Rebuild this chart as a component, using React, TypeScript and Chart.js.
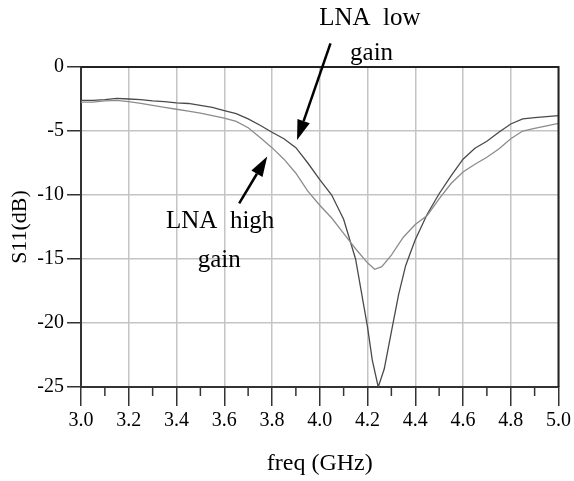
import React, { useEffect, useRef } from "react";
import { Chart, registerables } from "chart.js";

Chart.register(...registerables);

const FREQ_LOW = [3.0, 3.05, 3.1, 3.15, 3.2, 3.25, 3.3, 3.35, 3.4, 3.45, 3.5, 3.55, 3.6, 3.65, 3.7, 3.75, 3.8, 3.85, 3.9, 3.95, 4.0, 4.05, 4.1, 4.15, 4.2, 4.22, 4.245, 4.27, 4.3, 4.33, 4.36, 4.4, 4.45, 4.5, 4.55, 4.6, 4.65, 4.7, 4.75, 4.8, 4.85, 4.9, 4.95, 5.0];
const S11_LOW = [-2.6, -2.6, -2.55, -2.45, -2.5, -2.55, -2.65, -2.7, -2.8, -2.85, -3.0, -3.15, -3.4, -3.65, -4.05, -4.55, -5.1, -5.6, -6.3, -7.5, -8.8, -10.0, -11.9, -15.0, -20.3, -22.9, -25.0, -23.6, -20.7, -17.8, -15.5, -13.5, -11.5, -9.9, -8.5, -7.2, -6.35, -5.8, -5.1, -4.45, -4.05, -3.95, -3.88, -3.8];

const FREQ_HIGH = [3.0, 3.05, 3.1, 3.15, 3.2, 3.25, 3.3, 3.35, 3.4, 3.45, 3.5, 3.55, 3.6, 3.65, 3.7, 3.75, 3.8, 3.85, 3.9, 3.95, 4.0, 4.05, 4.1, 4.15, 4.2, 4.23, 4.26, 4.3, 4.35, 4.4, 4.45, 4.5, 4.55, 4.6, 4.65, 4.7, 4.75, 4.8, 4.85, 4.9, 4.95, 5.0];
const S11_HIGH = [-2.75, -2.75, -2.65, -2.6, -2.7, -2.85, -3.0, -3.15, -3.3, -3.45, -3.6, -3.8, -4.0, -4.25, -4.75, -5.5, -6.3, -7.2, -8.3, -9.7, -10.8, -11.8, -13.0, -14.2, -15.3, -15.8, -15.6, -14.7, -13.3, -12.3, -11.6, -10.3, -9.1, -8.2, -7.6, -7.05, -6.4, -5.6, -5.0, -4.8, -4.6, -4.4];

const X_TICK_LABELS = ["3.0", "3.2", "3.4", "3.6", "3.8", "4.0", "4.2", "4.4", "4.6", "4.8", "5.0"];
const Y_TICK_LABELS = ["0", "-5", "-10", "-15", "-20", "-25"];

const X_TITLE = "freq (GHz)";
const Y_TITLE = "S11(dB)";

// annotation text lines (center x, baseline y in data units) and arrows
const LABEL_LOW_LINES = ["LNA  low", "gain"];
const LABEL_LOW_X = [4.21, 4.217];
const LABEL_LOW_Y = [3.28, 0.55];
const ARROW_LOW = [4.045, 1.85, 3.905, -5.7];

const LABEL_HIGH_LINES = ["LNA  high", "gain"];
const LABEL_HIGH_X = [3.583, 3.579];
const LABEL_HIGH_Y = [-12.6, -15.6];
const ARROW_HIGH = [3.6625, -10.65, 3.78, -7.0];

const SERIF = "'Liberation Serif', 'Times New Roman', serif";

const isMajor = (v: number) => Math.round(v * 10) % 2 === 0;

export default function App() {
  const ref = useRef<HTMLCanvasElement | null>(null);

  useEffect(() => {
    document.body.style.margin = "0";
    const canvas = ref.current;
    if (!canvas) return;

    const decor = {
      id: "decor",
      afterDraw(chart: any) {
        const ctx = chart.ctx;
        const xs = chart.scales.x;
        const ys = chart.scales.y;
        const area = chart.chartArea;
        ctx.save();
        // minor ticks
        ctx.strokeStyle = "#333";
        ctx.lineWidth = 1.5;
        xs.ticks.forEach((t: any) => {
          if (!isMajor(t.value)) {
            const px = xs.getPixelForValue(t.value);
            ctx.beginPath();
            ctx.moveTo(px, area.bottom);
            ctx.lineTo(px, area.bottom + 9);
            ctx.stroke();
          }
        });
        // top and right borders
        ctx.strokeStyle = "#222";
        ctx.lineWidth = 2;
        ctx.beginPath();
        ctx.moveTo(area.left, area.top);
        ctx.lineTo(area.right, area.top);
        ctx.lineTo(area.right, area.bottom);
        ctx.stroke();

        // arrows
        const drawArrow = (a: number[]) => {
          const x0 = xs.getPixelForValue(a[0]);
          const y0 = ys.getPixelForValue(a[1]);
          const x1 = xs.getPixelForValue(a[2]);
          const y1 = ys.getPixelForValue(a[3]);
          const ang = Math.atan2(y1 - y0, x1 - x0);
          const hl = 20;
          const hw = 6.5;
          const bx = x1 - hl * Math.cos(ang);
          const by = y1 - hl * Math.sin(ang);
          ctx.strokeStyle = "#000";
          ctx.lineWidth = 2.5;
          ctx.beginPath();
          ctx.moveTo(x0, y0);
          ctx.lineTo(bx, by);
          ctx.stroke();
          ctx.fillStyle = "#000";
          ctx.beginPath();
          ctx.moveTo(x1, y1);
          ctx.lineTo(bx + hw * Math.sin(ang), by - hw * Math.cos(ang));
          ctx.lineTo(bx - hw * Math.sin(ang), by + hw * Math.cos(ang));
          ctx.closePath();
          ctx.fill();
        };
        drawArrow(ARROW_LOW);
        drawArrow(ARROW_HIGH);

        // texts
        ctx.fillStyle = "#000";
        ctx.font = `25px ${SERIF}`;
        ctx.textAlign = "center";
        ctx.textBaseline = "alphabetic";
        LABEL_LOW_LINES.forEach((s, i) => {
          ctx.fillText(s, xs.getPixelForValue(LABEL_LOW_X[i]), ys.getPixelForValue(LABEL_LOW_Y[i]));
        });
        LABEL_HIGH_LINES.forEach((s, i) => {
          ctx.fillText(s, xs.getPixelForValue(LABEL_HIGH_X[i]), ys.getPixelForValue(LABEL_HIGH_Y[i]));
        });
        ctx.restore();
      },
    };

    const chart = new Chart(canvas, {
      type: "line",
      data: {
        datasets: [
          {
            label: "LNA high gain",
            data: FREQ_HIGH.map((f, i) => ({ x: f, y: S11_HIGH[i] })),
            borderColor: "#8c8c8c",
            borderWidth: 1.3,
            pointRadius: 0,
            tension: 0,
            fill: false,
          },
          {
            label: "LNA low gain",
            data: FREQ_LOW.map((f, i) => ({ x: f, y: S11_LOW[i] })),
            borderColor: "#4a4a4a",
            borderWidth: 1.3,
            pointRadius: 0,
            tension: 0,
            fill: false,
          },
        ],
      },
      options: {
        responsive: false,
        maintainAspectRatio: false,
        animation: false,
        layout: { padding: { top: 67, right: 14, left: 0, bottom: 0 } },
        plugins: {
          legend: { display: false },
          tooltip: { enabled: false },
        },
        scales: {
          x: {
            type: "linear",
            min: 3,
            max: 5,
            afterFit: (s: any) => {
              s.height = 94;
            },
            border: { display: true, color: "#333", width: 2 },
            grid: {
              color: (c: any) => (isMajor(c.tick.value) ? "#c4c4c4" : "rgba(0,0,0,0)"),
              lineWidth: 1.5,
              drawTicks: true,
              tickLength: 19,
              tickColor: (c: any) => (isMajor(c.tick.value) ? "#333" : "rgba(0,0,0,0)"),
              tickWidth: 1.5,
            },
            ticks: {
              stepSize: 0.1,
              autoSkip: false,
              maxRotation: 0,
              padding: 3,
              color: "#000",
              font: { family: SERIF, size: 20 },
              callback: (v: any) => {
                const n = Number(v);
                if (!isMajor(n)) return "";
                const idx = Math.round((n - 3) / 0.2);
                return X_TICK_LABELS[idx] ?? "";
              },
            },
            title: {
              display: true,
              text: X_TITLE,
              color: "#000",
              font: { family: SERIF, size: 24 },
              padding: { top: 0, bottom: 3 },
            },
          },
          y: {
            type: "linear",
            min: -25,
            max: 0,
            afterFit: (s: any) => {
              s.width = 81;
            },
            border: { display: true, color: "#333", width: 2 },
            grid: {
              color: "#c4c4c4",
              lineWidth: 1.5,
              drawTicks: true,
              tickLength: 14,
              tickColor: "#333",
              tickWidth: 1.5,
            },
            ticks: {
              stepSize: 5,
              padding: 3,
              color: "#000",
              font: { family: SERIF, size: 20 },
              callback: (v: any) => {
                const idx = Math.round(-Number(v) / 5);
                return Y_TICK_LABELS[idx] ?? "";
              },
            },
            title: {
              display: true,
              text: Y_TITLE,
              color: "#000",
              font: { family: SERIF, size: 22 },
              padding: { top: 7, bottom: 0 },
            },
          },
        },
      },
      plugins: [decor],
    } as any);

    return () => chart.destroy();
  }, []);

  return (
    <div style={{ width: 574, height: 481, background: "#fff" }}>
      <canvas ref={ref} width={574} height={481} style={{ display: "block" }} />
    </div>
  );
}
